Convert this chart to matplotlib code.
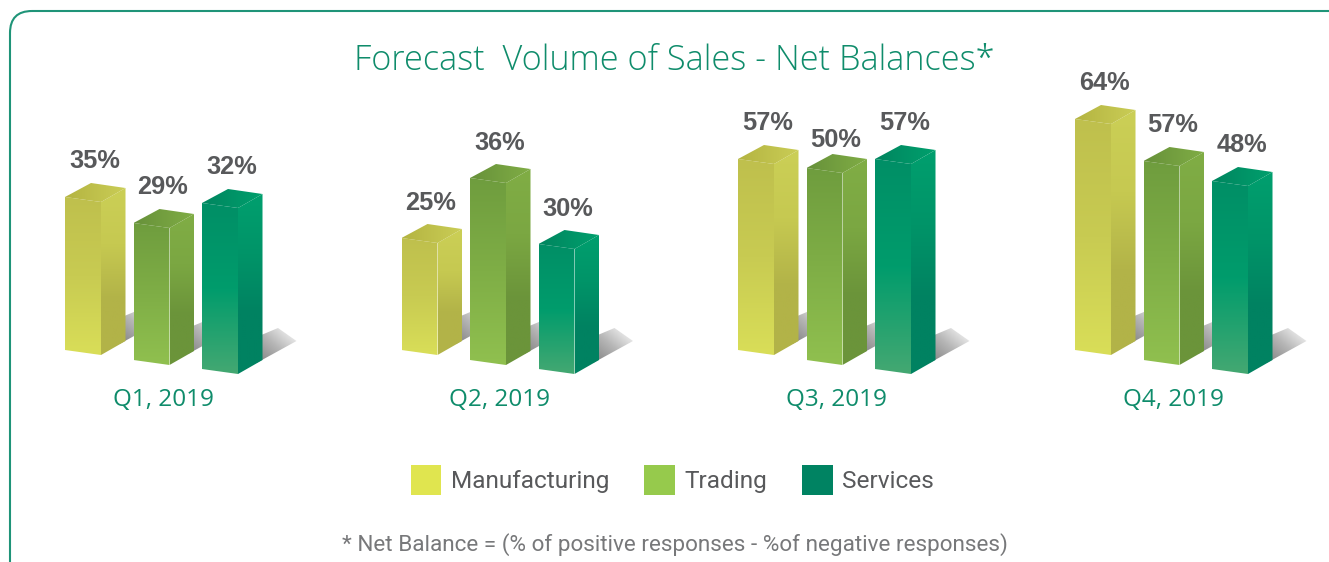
import matplotlib
matplotlib.use("Agg")
import matplotlib.pyplot as plt
import numpy as np
from matplotlib.colors import LinearSegmentedColormap
from matplotlib.patches import FancyBboxPatch, Patch, Polygon

# values printed on the bars
quarters = ["Q1, 2019", "Q2, 2019", "Q3, 2019", "Q4, 2019"]
sectors = ["Manufacturing", "Trading", "Services"]
manufacturing = [35, 25, 57, 64]
trading = [29, 36, 50, 57]
services = [32, 30, 57, 48]

# the picture does not scale bars to the printed values, so drawn heights are read separately
manufacturing_h = [153, 112, 191, 231]
trading_h = [137, 182, 192, 199]
services_h = [166, 125, 210, 188]

GREEN = "#0f8c6b"
GREY = "#58595b"

# colours per sector: legend, front, side, lid
styles = {
    "Manufacturing": ("#e0e54f", ["#bfc04d", "#c8cb52", "#d9de58"], ["#cbcf56", "#c6c951", "#b2b348", "#b2b348"],
                      ("#b4b441", "#cacd56")),
    "Trading": ("#96ca4c", ["#6f9d3e", "#7fae46", "#90c04f"], ["#80ad45", "#7ba742", "#6b943a", "#6b943a"],
                ("#67913a", "#80ad45")),
    "Services": ("#008362", ["#008f66", "#009c6c", "#44a872"], ["#009f6e", "#009468", "#008261", "#008261"],
                 ("#00855f", "#00a06d")),
}

fig = plt.figure(figsize=(13.29, 5.62), dpi=100)
ax = fig.add_axes([0, 0, 1, 1])
ax.set_xlim(0, 1329)
ax.set_ylim(562, 0)
ax.axis("off")


def shade(points, colours, mode="vertical", zorder=2):
    points = np.array(points, dtype=float)
    x0, y0 = points.min(axis=0)
    x1, y1 = points.max(axis=0)
    cmap = LinearSegmentedColormap.from_list("g", colours)
    t = np.linspace(0, 1, 128)
    if mode == "vertical":
        grad = t.reshape(-1, 1)
    elif mode == "horizontal":
        grad = t.reshape(1, -1)
    else:
        # bottom left to top right
        grad = (t.reshape(1, -1) + t[::-1].reshape(-1, 1)) / 2
    im = ax.imshow(grad, cmap=cmap, vmin=0, vmax=1, extent=[x0, x1, y1, y0], aspect="auto",
                   zorder=zorder, interpolation="bilinear")
    im.set_clip_path(Polygon(points, closed=True, transform=ax.transData))


def draw_bar(left, base, height, style, order):
    front_w, side_w = 36, 24.5
    slant, rise = 5, 14
    top = base - height
    fl_b, fr_b = (left, base), (left + front_w, base + slant)
    sr_b = (left + front_w + side_w, base + slant - rise)
    fl_t, fr_t = (left, top), (left + front_w, top + slant)
    sr_t = (left + front_w + side_w, top + slant - rise)
    back = (left + 26, top - rise)
    z = 3 + order

    # floor shadow goes behind all the bars
    sx, sy = sr_b
    shade([(sx - 6, sy - 23), (sx + 15.5, sy - 32), (sx + 34, sy - 19), (sx - 6, sy + 3)],
          ["#808080", "#b8b8b8", "#ffffff"], mode="diagonal", zorder=2)

    _, front, side, lid = style
    shade([fl_t, fr_t, fr_b, fl_b], front, zorder=z)
    shade([fr_t, sr_t, sr_b, fr_b], side, zorder=z)
    shade([fl_t, back, sr_t, fr_t], lid, mode="horizontal", zorder=z)
    return back


# frame runs off the right and bottom of the image
ax.add_patch(FancyBboxPatch((10, 11), 1345, 600, boxstyle="round,pad=0,rounding_size=22",
                            fc="none", ec="#1f9478", lw=1.5, zorder=1))

lefts = [65, 401.5, 738, 1075]
offsets = [0, 68.5, 137]
bases = [350, 360, 369]
values = [manufacturing, trading, services]
heights = [manufacturing_h, trading_h, services_h]

for q, quarter in enumerate(quarters):
    for s, sector in enumerate(sectors):
        left = lefts[q] + offsets[s]
        back = draw_bar(left, bases[s], heights[s][q], styles[sector], s)
        # the 50% label sits closer to its bar than the others
        gap = 14 if (q, s) == (2, 1) else 21.5
        ax.text(left + 29.5, back[1] - gap, f"{values[s][q]}%", ha="center", va="center",
                fontsize=18.3, fontweight="bold", color=GREY, family="Liberation Sans", zorder=10)
    ax.text(lefts[q] + 98, 400.5, quarter, ha="center", va="center", fontsize=17.5, color=GREEN,
            family="Open Sans", zorder=10)

ax.text(674, 60.5, "Forecast  Volume of Sales - Net Balances*", ha="center", va="center",
        fontsize=24.7, color=GREEN, family="Open Sans", fontweight="light")

handles = [Patch(fc=styles[name][0], ec="none", label=name) for name in sectors]
ax.legend(handles=handles, ncols=3, loc="center", bbox_to_anchor=(672.5 / 1329, 1 - 480 / 562),
          frameon=False, prop={"family": "Roboto", "size": 17.6}, labelcolor=GREY,
          handlelength=1.23, handleheight=1.5, handletextpad=0.4, columnspacing=1.45,
          borderpad=0, borderaxespad=0)

ax.text(674.5, 545, "* Net Balance = (% of positive responses - %of negative responses)", ha="center",
        va="center", fontsize=16.2, color="#77787a", family="Roboto")

fig.savefig("out.png", dpi=100)
